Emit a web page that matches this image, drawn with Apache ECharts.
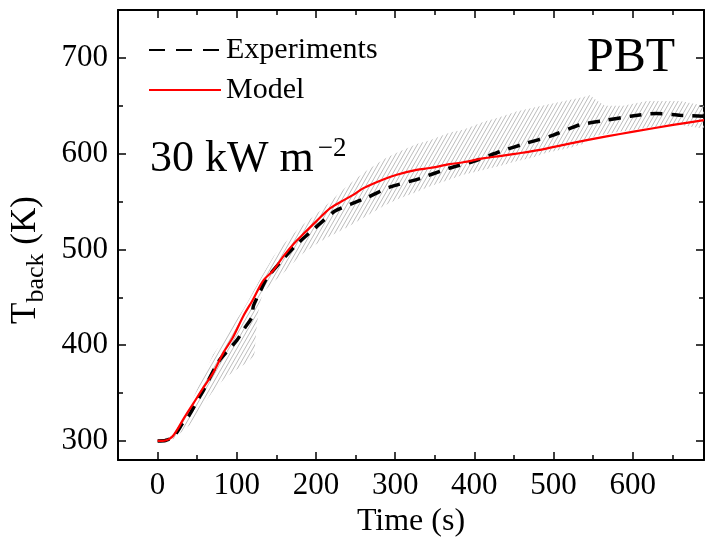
<!DOCTYPE html>
<html><head><meta charset="utf-8">
<script src="https://cdn.jsdelivr.net/npm/echarts@6/dist/echarts.min.js"></script>
<style>html,body{margin:0;padding:0;background:#fff;}#c{width:705px;height:543px;}</style>
</head><body><div id="c"></div>
<script>
// ---- data ----
const xTickLabels = [0, 100, 200, 300, 400, 500, 600];
const xMinorTicks = [50, 150, 250, 350, 450, 550, 650];
const yTickLabels = [300, 400, 500, 600, 700];
const yMinorTicks = [350, 450, 550, 650];

const timeModel = [0,10,18,25,32,45,58,70,83,95,108,120,133,146,159,172,184,200,218,232,247,260,285,302,327,344,369,386,411,432,453,483,517,567,601,651,690];
const tempModel = [300,300.5,304,312,322,339,356,371,392,408,430,447,467,478,493,506,516,529,543,550,557,564,573,578,583,585,589,591,595,597.5,600,604,610,618,623,630,635];

const timeExp = [0,10,20,32,40,53,58,77,100,110,119,121,130,138,159,178,197,224,264,293,331,365,399,432,466,495,533,567,597,630,660,690];
const tempExp = [300,300.5,304,319,327,346,353,383,405,418,429,441,457,470,490.5,507,521,540,554,565,574,584,592,602,611,618,630,635,639,642,640,639];

const bandTime  = [0,20,40,53,62,70,83,95,108,117,122,125,128,133,146,155,176,184,205,218,239,260,285,302,327,344,369,386,411,432,453,474,491,520,537,546,554,565,584,588,618,630,651,660,690];
const bandUpper = [300,306,335,360,375,390,405,421,437,450,458,462,467,474,492,502,520,526,540,550,566,580,594,601,610,614,622,625,633,638,644,648,651,656,659,661,656,650,650,650,655,655,655,655,650];
const bandLower = [300,302,316,332,343,352,364,372,379,385,389,418,440,455,466,472,490,496,508,514,523,533,545,552,560,566,573,578,583,587,592,596,601,606,610,615,619,620,623,623,627,628,631,630,626];

// ---- build ----
const FONT = 'Liberation Serif';
const zip = (a, b) => a.map((v, i) => [v, b[i]]);

const pc = document.createElement('canvas');
pc.width = 4; pc.height = 7;
const g = pc.getContext('2d');
g.strokeStyle = '#bcbcbc'; g.lineWidth = 1;
g.beginPath();
g.moveTo(-4, 7); g.lineTo(0, 0);
g.moveTo(0, 7); g.lineTo(4, 0);
g.moveTo(4, 7); g.lineTo(8, 0);
g.stroke();

const chart = echarts.init(document.getElementById('c'), null, {renderer: 'canvas'});

const X_MIN = -50, X_MAX = 690, Y_MIN = 280, Y_MAX = 750;
function xAx(pos, values, len, main) {
  return {
    type: 'value', position: pos, min: X_MIN, max: X_MAX,
    axisLine: {show: main, onZero: false, lineStyle: {color: '#000', width: 2}},
    axisTick: {show: true, inside: true, length: len, customValues: values, lineStyle: {color: '#000', width: 1.5}},
    axisLabel: {show: main && pos === 'bottom', customValues: values, margin: 10, color: '#000', fontFamily: FONT, fontSize: 31},
    splitLine: {show: false}
  };
}
function yAx(pos, values, len, main) {
  return {
    type: 'value', position: pos, min: Y_MIN, max: Y_MAX,
    axisLine: {show: main, onZero: false, lineStyle: {color: '#000', width: 2}},
    axisTick: {show: true, inside: true, length: len, customValues: values, lineStyle: {color: '#000', width: 1.5}},
    axisLabel: {show: main && pos === 'left', customValues: values, margin: 10, color: '#000', fontFamily: FONT, fontSize: 31},
    splitLine: {show: false}
  };
}

const xAxes = [xAx('bottom', xTickLabels, 8, true), xAx('bottom', xMinorTicks, 5, false), xAx('top', xTickLabels, 8, true), xAx('top', xMinorTicks, 5, false)];
xAxes[0].name = 'Time (s)';
xAxes[0].nameLocation = 'middle';
xAxes[0].nameGap = 35;
xAxes[0].nameTextStyle = {fontFamily: FONT, fontSize: 32, color: '#000'};

const yAxes = [yAx('left', yTickLabels, 8, true), yAx('left', yMinorTicks, 5, false), yAx('right', yTickLabels, 8, true), yAx('right', yMinorTicks, 5, false)];
yAxes[0].name = '{T|T}{s|back}{n| (K)}';
yAxes[0].nameLocation = 'middle';
yAxes[0].nameGap = 69;
yAxes[0].nameTextStyle = {
  fontFamily: FONT, color: '#000', padding: [0, 50, 0, 0],
  rich: {
    T: {fontFamily: FONT, fontSize: 35, lineHeight: 46, color: '#000'},
    s: {fontFamily: FONT, fontSize: 26, lineHeight: 22, verticalAlign: 'bottom', color: '#000'},
    n: {fontFamily: FONT, fontSize: 35, lineHeight: 46, color: '#000'}
  }
};

const option = {
  animation: false,
  backgroundColor: '#fff',
  grid: {left: 118, right: 1, top: 10, bottom: 71, containLabel: false},
  xAxis: xAxes,
  yAxis: yAxes,
  legend: {
    orient: 'vertical', left: 143, top: 30, itemWidth: 72, itemHeight: 14, itemGap: 10,
    itemStyle: {opacity: 0},
    textStyle: {fontFamily: FONT, fontSize: 30, color: '#000'},
    data: [{name: 'Experiments', lineStyle: {type: [16, 11]}}, {name: 'Model'}]
  },
  graphic: [
    {type: 'text', left: 587, top: 34, style: {text: 'PBT', font: '48px "Liberation Serif"', fill: '#000'}},
    {type: 'text', left: 150, top: 135, style: {
      text: '{a|30 kW m}{b|\u22122}', fill: '#000',
      rich: {
        a: {fontFamily: FONT, fontSize: 44, lineHeight: 48, fill: '#000'},
        b: {fontFamily: FONT, fontSize: 27, lineHeight: 27, verticalAlign: 'top', fill: '#000', padding: [0, 0, 0, 4]}
      }
    }}
  ],
  series: [
    {name: 'band', type: 'custom', xAxisIndex: 0, yAxisIndex: 0, silent: true, z: 1,
     data: bandTime.map((t, i) => [t, bandLower[i], bandUpper[i]]),
     renderItem: function (params, api) {
       if (params.dataIndex !== 0) return null;
       const pts = [];
       for (let i = 0; i < bandTime.length; i++) pts.push(api.coord([bandTime[i], bandUpper[i]]));
       for (let i = bandTime.length - 1; i >= 0; i--) pts.push(api.coord([bandTime[i], bandLower[i]]));
       return {type: 'polygon', shape: {points: pts}, style: {fill: {image: pc, repeat: 'repeat'}, stroke: null}};
     }},
    {name: 'Experiments', type: 'line', data: zip(timeExp, tempExp), symbol: 'none', smooth: 0.2, z: 3,
     lineStyle: {color: '#000', width: 3.5, type: [12, 9]}, itemStyle: {color: '#000'}, xAxisIndex: 0, yAxisIndex: 0},
    {name: 'Model', type: 'line', data: zip(timeModel, tempModel), symbol: 'none', smooth: 0.3, z: 4,
     lineStyle: {color: '#ff0000', width: 2.2}, itemStyle: {color: '#ff0000'}, xAxisIndex: 0, yAxisIndex: 0}
  ]
};
chart.setOption(option);
</script></body></html>
